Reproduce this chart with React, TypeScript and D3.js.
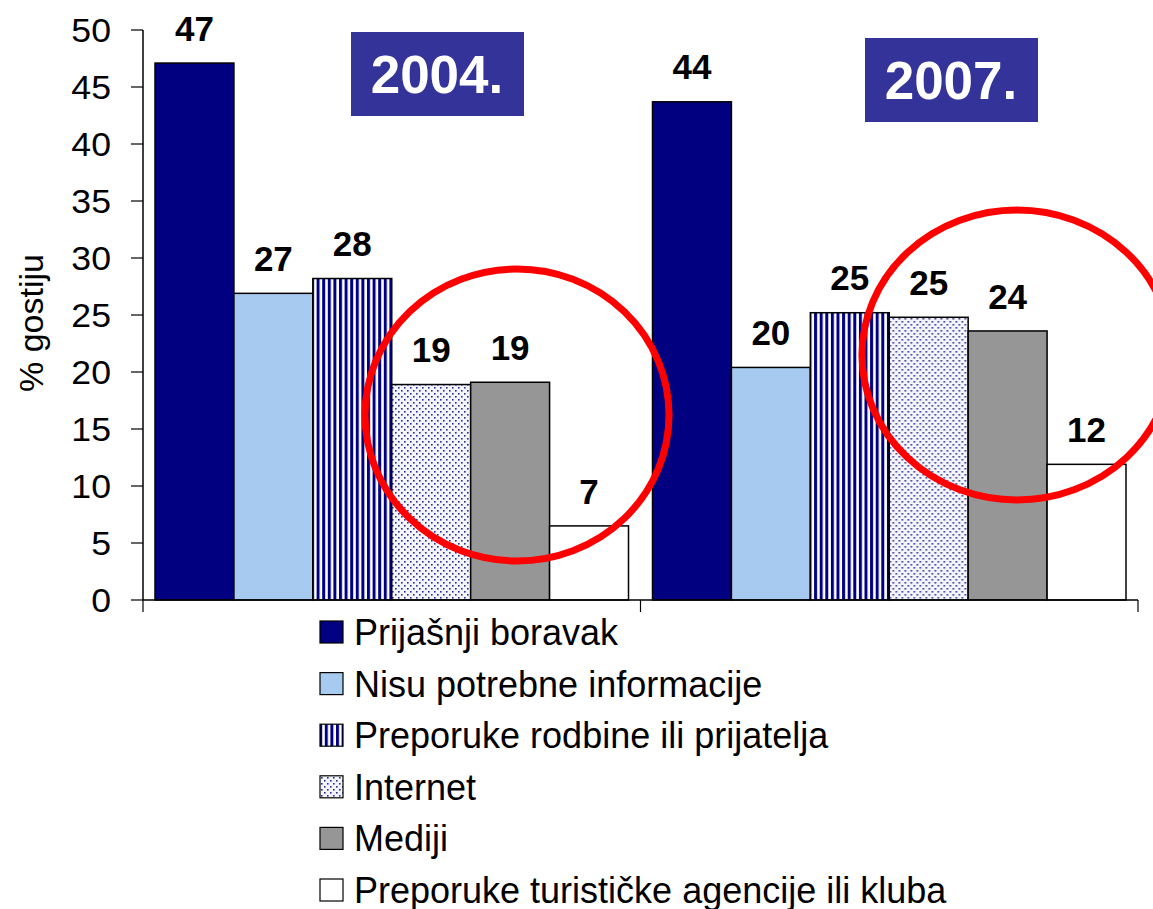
import * as d3 from "d3"
import React from "react"

const years = ["2004.", "2007."]
const series = ["Prijašnji boravak", "Nisu potrebne informacije", "Preporuke rodbine ili prijatelja", "Internet", "Mediji", "Preporuke turističke agencije ili kluba"]
const values2004 = [47.1, 26.9, 28.2, 18.9, 19.1, 6.5]
const values2007 = [43.7, 20.4, 25.2, 24.8, 23.6, 11.9]
const labels2004 = ["47", "27", "28", "19", "19", "7"]
const labels2007 = ["44", "20", "25", "25", "24", "12"]
const yTickValues = [0, 5, 10, 15, 20, 25, 30, 35, 40, 45, 50]

const fills = ["#000080", "#A6CAF0", "url(#stripes)", "url(#dots)", "#969696", "#FFFFFF"]

export default function App() {
  const W = 1153, H = 909
  const xOff = 143, xEnd = 1138
  const yScale = d3.scaleLinear().domain([0, 50]).range([600, 30])
  const xScale = d3.scaleBand().domain(years).range([xOff, xEnd]).paddingInner(0).paddingOuter(0)
  const inner = d3.scaleBand().domain(series).range([12, xScale.bandwidth() - 12])
  const data = [values2004, values2007]
  const labels = [labels2004, labels2007]
  const font = "Arial, 'Liberation Sans', sans-serif"
  const boxes = [{ x: 351, y: 32 }, { x: 865, y: 38 }]
  const circles = [{ cx: 517, cy: 415, rx: 152, ry: 146 }, { cx: 1017, cy: 355, rx: 155, ry: 145 }]

  return (
    <svg width={W} height={H} style={{ position: "absolute", left: 0, top: 0, background: "#fff" }} fontFamily={font}>
      <defs>
        <pattern id="stripes" width={5.6} height={10} patternUnits="userSpaceOnUse">
          <rect width={5.6} height={10} fill="#fff" />
          <rect width={3} height={10} fill="#000080" />
        </pattern>
        <pattern id="dots" width={6} height={6} patternUnits="userSpaceOnUse">
          <rect width={6} height={6} fill="#F4F4FC" />
          <rect x={0} y={0} width={1.6} height={1.6} fill="#2C2C90" />
          <rect x={3} y={3} width={1.6} height={1.6} fill="#2C2C90" />
        </pattern>
      </defs>

      {/* y axis */}
      <line x1={xOff} y1={yScale(50)} x2={xOff} y2={yScale(0)} stroke="#000" strokeWidth={1.5} />
      {yTickValues.map(t => (
        <g key={t}>
          <line x1={xOff - 12} y1={yScale(t)} x2={xOff} y2={yScale(t)} stroke="#000" strokeWidth={1.2} />
          <text transform={`translate(${xOff - 32},${yScale(t)}) scale(1.08,1)`} dy="0.36em" textAnchor="end" fontSize={33}>{t}</text>
        </g>
      ))}
      <text transform={`translate(43,${yScale(24.3)}) rotate(-90)`} textAnchor="middle" fontSize={34}>% gostiju</text>

      {/* bars */}
      {years.map((yr, gi) => (
        <g key={yr} transform={`translate(${xScale(yr)},0)`}>
          {series.map((s, i) => {
            const v = data[gi][i]
            const x = inner(s) as number
            return (
              <g key={s}>
                <rect x={x} y={yScale(v)} width={inner.bandwidth()} height={yScale(0) - yScale(v)} fill={fills[i]} stroke="#000" strokeWidth={1.5} />
                <text x={x + inner.bandwidth() / 2} y={yScale(v) - 35} dy="0.36em" textAnchor="middle" fontSize={35} fontWeight="bold">{labels[gi][i]}</text>
              </g>
            )
          })}
        </g>
      ))}

      {/* x axis */}
      <line x1={xOff} y1={yScale(0)} x2={xEnd} y2={yScale(0)} stroke="#000" strokeWidth={1.5} />
      {[xOff, ...years.map(y => (xScale(y) as number) + xScale.bandwidth())].map((x, i) => (
        <line key={i} x1={x} y1={yScale(0)} x2={x} y2={yScale(0) + 12} stroke="#000" strokeWidth={1.2} />
      ))}

      {/* year boxes */}
      {years.map((yr, i) => (
        <g key={yr}>
          <rect x={boxes[i].x} y={boxes[i].y} width={173} height={84} fill="#333399" />
          <text x={boxes[i].x + 86} y={boxes[i].y + 42} dy="0.36em" textAnchor="middle" fill="#fff" fontSize={53} fontWeight="bold">{yr}</text>
        </g>
      ))}

      {/* red circles */}
      {circles.map((c, i) => (
        <ellipse key={i} cx={c.cx} cy={c.cy} rx={c.rx} ry={c.ry} fill="none" stroke="#FF0000" strokeWidth={7} />
      ))}

      {/* legend */}
      {series.map((s, i) => {
        const y = 632 + i * 51.6
        return (
          <g key={s}>
            <rect x={320} y={y - 11} width={23} height={22} fill={fills[i]} stroke="#000" strokeWidth={1.2} />
            <text x={354} y={y} dy="0.36em" fontSize={36}>{s}</text>
          </g>
        )
      })}
    </svg>
  )
}
